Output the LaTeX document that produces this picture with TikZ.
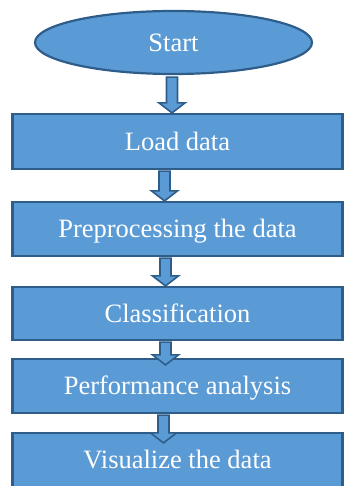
\documentclass[tikz,border=0pt]{standalone}
\usepackage{fontspec}
\setmainfont{Liberation Serif}
\usetikzlibrary{shapes.geometric,calc}
\definecolor{boxfill}{HTML}{5B9BD5}
\definecolor{boxline}{HTML}{2F5D8A}
\tikzset{
  stepbox/.style={draw=boxline, line width=2.2pt, fill=boxfill, rectangle,
    minimum width=330pt, inner sep=0pt, text=white,
    font=\fontsize{26.5}{30}\selectfont, text height=17.6pt, text depth=0pt},
  startshape/.style={draw=boxline, line width=2.2pt, fill=boxfill, ellipse,
    minimum width=277pt, minimum height=63pt, inner sep=0pt, text=white,
    font=\fontsize{26.5}{30}\selectfont, text height=17.6pt, text depth=0pt},
  blockarrow/.style={draw=boxline, line width=1.6pt, fill=boxfill, line join=miter}
}
\begin{document}
\begin{tikzpicture}[x=1pt,y=-1pt]
\useasboundingbox (0,0) rectangle (344,486);
\node[startshape] (start) at (173.5,42.5) {Start};
\node[stepbox, minimum height=55pt] (load) at (177.5,141.5) {Load data};
\node[stepbox, minimum height=54pt] (prep) at (177.5,229) {Preprocessing the data};
\node[stepbox, minimum height=53pt] (cls) at (177.5,313.5) {Classification};
\node[stepbox, minimum height=54pt] (perf) at (177.5,386) {Performance analysis};
\node[stepbox, minimum height=54pt] (vis) at (177.5,460) {Visualize the data};
% block arrows from node to node (x centre / from / to / start gap / tip overlap)
\foreach \xc/\a/\b/\g/\o in {172/start/load/2/0, 164.5/load/prep/1/0, 165.5/prep/cls/1/0, 165.5/cls/perf/1/7, 163.5/perf/vis/1/11}{
  \draw[blockarrow]
    let \p1=(\a.south), \p2=(\b.north) in
    (\xc-5.5,\y1-\g) -- (\xc-5.5,\y2-\o+10) -- (\xc-13,\y2-\o+10) -- (\xc,\y2-\o) -- (\xc+13,\y2-\o+10)
    -- (\xc+5.5,\y2-\o+10) -- (\xc+5.5,\y1-\g) -- cycle;
}
\end{tikzpicture}
\end{document}
